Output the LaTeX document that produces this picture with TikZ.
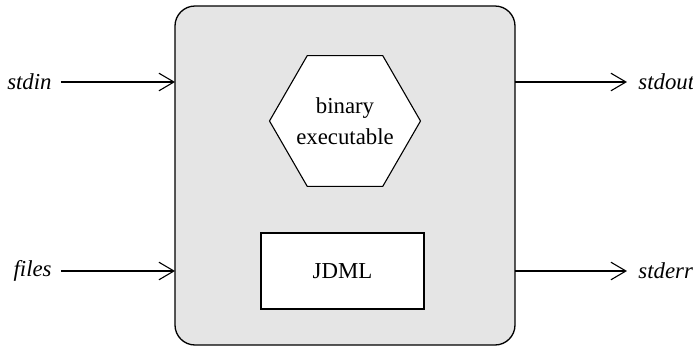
\documentclass[tikz,border=0pt]{standalone}
\usepackage{fontspec}
\setmainfont{Liberation Serif}
\usetikzlibrary{arrows.meta,shapes.geometric,calc}
\definecolor{boxgray}{HTML}{E5E5E5}
\tikzset{
  flow/.style={draw, line width=0.55pt, -{Straight Barb[length=7.5pt,width=8.8pt,line width=0.55pt]}},
  streamlabel/.style={font=\fontsize{11.4}{13}\selectfont\itshape, inner sep=0pt},
  inner/.style={draw, fill=white, line width=0.55pt},
  innertext/.style={font=\fontsize{11.4}{15.4}\selectfont, align=center, inner sep=0pt},
}
\begin{document}
\begin{tikzpicture}[x=0.5pt, y=-0.5pt]
\useasboundingbox (0,0) rectangle (693,349);
% the process box
\draw[fill=boxgray, line width=0.65pt, rounded corners=10pt] (175,6) rectangle (515,345);
% hexagon outline, with its two-line label set on top
\node[inner, regular polygon, regular polygon sides=6, minimum size=151*0.5pt, inner sep=0pt] (bin) at (345,121) {};
\node[innertext] (binlabel) at (bin.center) {binary\\executable};
\node[inner, innertext, minimum width=163*0.5pt, minimum height=76*0.5pt] (jdml) at (342.5,271) {JDML};
% stream endpoints on the box edges
\coordinate (inA) at (175,82);
\coordinate (inB) at (175,271);
\coordinate (outA) at (515,82);
\coordinate (outB) at (515,271);
\node[streamlabel, anchor=east] (stdin) at (52,82) {stdin};
\node[streamlabel, anchor=east] (files) at (52,271) {files};
\node[streamlabel, anchor=west] (stdout) at (638,82) {stdout};
\node[streamlabel, anchor=west] (stderr) at (638,271) {stderr};
\draw[flow] ($(stdin.east)+(9,0)$) -- (inA);
\draw[flow] ($(files.east)+(9,0)$) -- (inB);
\draw[flow] (outA) -- ($(stdout.west)+(-11,0)$);
\draw[flow] (outB) -- ($(stderr.west)+(-11,0)$);
\end{tikzpicture}
\end{document}
